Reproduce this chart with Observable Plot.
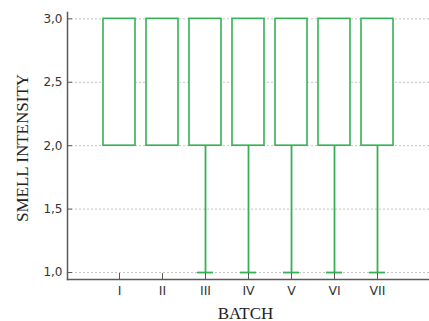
<!DOCTYPE html>
<html>
<head>
<meta charset="utf-8">
<script src="https://cdn.jsdelivr.net/npm/d3@7"></script>
<script src="https://cdn.jsdelivr.net/npm/@observablehq/plot@0.6"></script>
<style>
  html, body { margin: 0; padding: 0; background: #fff; }
  #chart svg { display: block; }
</style>
</head>
<body>
<div id="chart"></div>
<script>
const batches = ["I", "II", "III", "IV", "V", "VI", "VII"];
const minVals = [2, 2, 1, 1, 1, 1, 1];
const q1Vals  = [2, 2, 2, 2, 2, 2, 2];
const q3Vals  = [3, 3, 3, 3, 3, 3, 3];
const maxVals = [3, 3, 3, 3, 3, 3, 3];
const yTicks = [1.0, 1.5, 2.0, 2.5, 3.0];

const rows = batches.map((b, i) => ({batch: b, min: minVals[i], q1: q1Vals[i], q3: q3Vals[i], max: maxVals[i]}));
const green = "#35b155";
const axisColor = "#5a5a5a";
const serif = "'Liberation Serif', 'DejaVu Serif', serif";
const sans = "'DejaVu Sans', Verdana, sans-serif";

const chart = Plot.plot({
  width: 429,
  height: 321,
  marginLeft: 67,
  marginRight: 0,
  marginTop: 12,
  marginBottom: 42,
  style: {fontFamily: sans, background: "#fff"},
  x: {type: "band", domain: batches, paddingInner: 0.25, paddingOuter: 0.8, label: null},
  y: {domain: [0.945, 3.05], label: null},
  marks: [
    Plot.ruleY(yTicks, {y: d => d, stroke: "#c4c4c4", strokeDasharray: "2,2", strokeWidth: 1}),
    Plot.ruleX(rows.filter(d => d.min < d.q1), {x: "batch", y1: "min", y2: "q1", stroke: green, strokeWidth: 1.8}),
    Plot.ruleX(rows.filter(d => d.max > d.q3), {x: "batch", y1: "q3", y2: "max", stroke: green, strokeWidth: 1.8}),
    Plot.barY(rows, {x: "batch", y1: "q1", y2: "q3", fill: "white", stroke: green, strokeWidth: 1.6}),
    Plot.tickY(rows.filter(d => d.min < d.q1), {x: "batch", y: "min", stroke: green, strokeWidth: 1.8, insetLeft: 8, insetRight: 8}),
    Plot.tickY(rows.filter(d => d.max > d.q3), {x: "batch", y: "max", stroke: green, strokeWidth: 1.8, insetLeft: 8, insetRight: 8}),
    Plot.ruleY(yTicks, {y: d => d, stroke: axisColor, strokeWidth: 1, insetRight: 357}),
    Plot.ruleX(batches, {x: d => d, stroke: axisColor, strokeWidth: 1, insetTop: 261}),
    Plot.frame({anchor: "left", stroke: axisColor, strokeWidth: 1.5}),
    Plot.frame({anchor: "bottom", stroke: axisColor, strokeWidth: 1.5}),
    Plot.axisY(yTicks, {tickSize: 0, tickPadding: 5, fontSize: 12, fill: "#333",
      tickFormat: d => d.toFixed(1).replace(".", ","), label: null}),
    Plot.axisX(batches, {tickSize: 0, tickPadding: 7, fontSize: 12.5, fill: "#333", label: null}),
    Plot.text(["SMELL INTENSITY"], {frameAnchor: "left", textAnchor: "middle", rotate: -90, dx: -45, dy: 2, fontSize: 17, fontFamily: serif, fill: "#222"}),
    Plot.text(["BATCH"], {frameAnchor: "bottom", textAnchor: "middle", dx: -3, dy: 39, fontSize: 17, fontFamily: serif, fill: "#222"})
  ]
});
document.getElementById("chart").appendChild(chart);
</script>
</body>
</html>
